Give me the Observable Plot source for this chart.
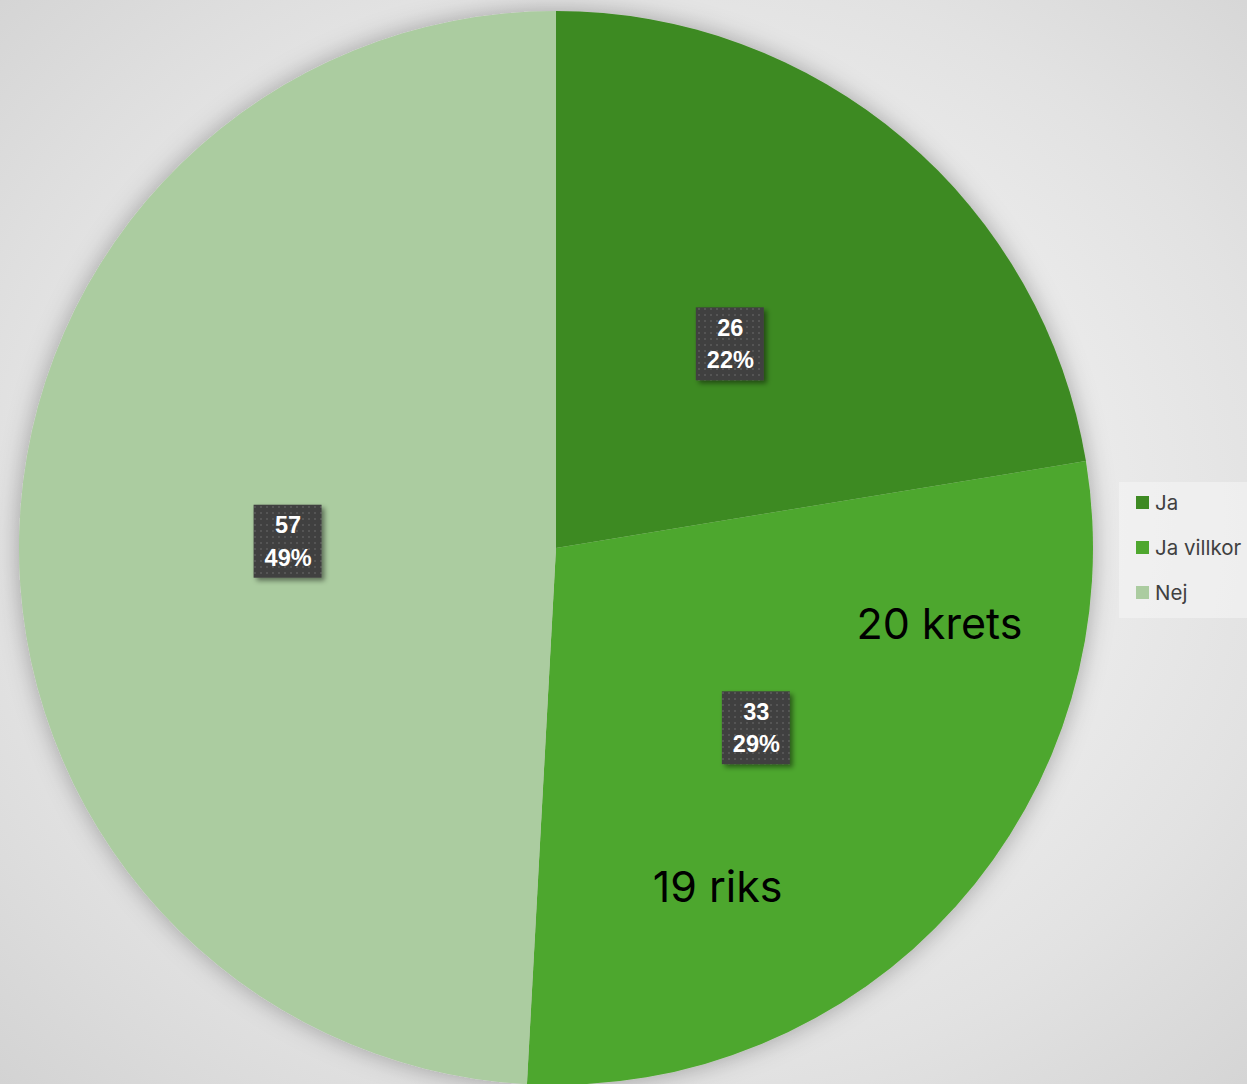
<!DOCTYPE html>
<html>
<head>
<meta charset="utf-8">
<script src="https://cdn.jsdelivr.net/npm/d3@7"></script>
<script src="https://cdn.jsdelivr.net/npm/@observablehq/plot@0.6"></script>
<style>
  html, body { margin: 0; padding: 0; }
  body { width: 1247px; height: 1084px; overflow: hidden; }
  #chart {
    position: relative; width: 1247px; height: 1084px;
    background: radial-gradient(ellipse farthest-corner at 52% 48%, #f5f5f5 0%, #eeeeee 40%, #e2e2e2 70%, #d3d3d3 100%);
  }
  #legend {
    position: absolute; left: 1119px; top: 482px; width: 128px; height: 136px;
    background: rgba(245,245,245,0.6);
    font-family: "Inter", "Noto Sans", sans-serif; font-size: 20.5px; color: #404040;
  }
  .li { position: absolute; left: 17px; display: flex; align-items: center; }
  .sw { width: 13px; height: 13px; margin-right: 6px; }
</style>
</head>
<body>
<div id="chart"></div>
<script>
const categories = ["Ja", "Ja villkor", "Nej"];
const counts = [26, 33, 57];
const percentLabels = ["22%", "29%", "49%"];
const colors = ["#3e8a23", "#4ea72e", "#abcca0"];
const annotations = ["20 krets", "19 riks"];

const pie = d3.pie().sort(null).value(d => d.count)(categories.map((c, i) => ({category: c, count: counts[i], pct: percentLabels[i]})));
const slices = pie.map(p => {
  const mid = (p.startAngle + p.endAngle) / 2;
  return {...p.data, startAngle: p.startAngle, endAngle: p.endAngle,
    lx: 0.5 * Math.sin(mid), ly: 0.5 * Math.cos(mid)};
});

const colorScale = Plot.scale({color: {domain: categories, range: colors}});

const cx = 556, cy = 548, R = 537;

function pieMark(data) {
  return (index, scales, values, dims, context) => {
    const g = d3.create("svg:g");
    const defs = g.append("defs");
    const f = defs.append("filter").attr("id", "pieShadow").attr("x", "-10%").attr("y", "-10%").attr("width", "120%").attr("height", "120%");
    f.append("feDropShadow").attr("dx", 0).attr("dy", 0).attr("stdDeviation", 12).attr("flood-color", "#000").attr("flood-opacity", 0.3);
    const x0 = scales.x(0), y0 = scales.y(0);
    const r = scales.x(1) - scales.x(0);
    const arc = d3.arc().innerRadius(0).outerRadius(r);
    const gg = g.append("g").attr("transform", `translate(${x0},${y0})`).attr("filter", "url(#pieShadow)");
    gg.selectAll("path").data(data).join("path")
      .attr("d", d => arc({startAngle: d.startAngle, endAngle: d.endAngle}))
      .attr("fill", d => colorScale.apply(d.category));
    return g.node();
  };
}

function boxMark(data) {
  return (index, scales, values, dims, context) => {
    const g = d3.create("svg:g");
    const defs = g.append("defs");
    const pat = defs.append("pattern").attr("id", "dots").attr("width", 6).attr("height", 6).attr("patternUnits", "userSpaceOnUse");
    pat.append("rect").attr("width", 6).attr("height", 6).attr("fill", "#404040");
    pat.append("rect").attr("x", 2).attr("y", 2).attr("width", 2).attr("height", 2).attr("fill", "#555555");
    const f = defs.append("filter").attr("id", "boxShadow").attr("x", "-30%").attr("y", "-30%").attr("width", "160%").attr("height", "160%");
    f.append("feDropShadow").attr("dx", 3).attr("dy", 3).attr("stdDeviation", 2.5).attr("flood-color", "#000").attr("flood-opacity", 0.45);
    g.selectAll("rect.b").data(data).join("rect").attr("class", "b")
      .attr("x", d => scales.x(d.lx) - 34)
      .attr("y", d => scales.y(d.ly) - 36)
      .attr("width", 68).attr("height", 73)
      .attr("fill", "url(#dots)")
      .attr("filter", "url(#boxShadow)");
    return g.node();
  };
}

const plot = Plot.plot({
  width: 1247,
  height: 1084,
  margin: 0,
  style: {background: "transparent", overflow: "visible"},
  x: {domain: [-1, 1], range: [cx - R, cx + R], axis: null},
  y: {domain: [-1, 1], range: [cy + R, cy - R], axis: null},
  marks: [
    pieMark(slices),
    boxMark(slices),
    Plot.text(slices, {x: "lx", y: "ly", dy: -2, text: d => `${d.count}\n${d.pct}`,
      fill: "white", fontWeight: "bold", fontSize: 23.5, lineHeight: 1.38,
      fontFamily: "Liberation Sans, Arial, sans-serif"}),
    Plot.text([annotations[0]], {x: 0.713, y: -0.143, text: d => d, fontSize: 43, fill: "#000",
      fontFamily: "Inter, Noto Sans, sans-serif"}),
    Plot.text([annotations[1]], {x: 0.300, y: -0.633, text: d => d, fontSize: 43, fill: "#000",
      fontFamily: "Inter, Noto Sans, sans-serif"})
  ]
});

const chart = document.getElementById("chart");
chart.appendChild(plot);
plot.style.position = "absolute"; plot.style.left = "0"; plot.style.top = "0";

const legend = document.createElement("div");
legend.id = "legend";
categories.forEach((c, i) => {
  const item = document.createElement("div");
  item.className = "li";
  item.style.top = (8 + i * 45) + "px";
  const sw = document.createElement("div");
  sw.className = "sw"; sw.style.background = colorScale.apply(c);
  const t = document.createElement("span"); t.textContent = c;
  item.appendChild(sw); item.appendChild(t);
  legend.appendChild(item);
});
chart.appendChild(legend);
</script>
</body>
</html>
